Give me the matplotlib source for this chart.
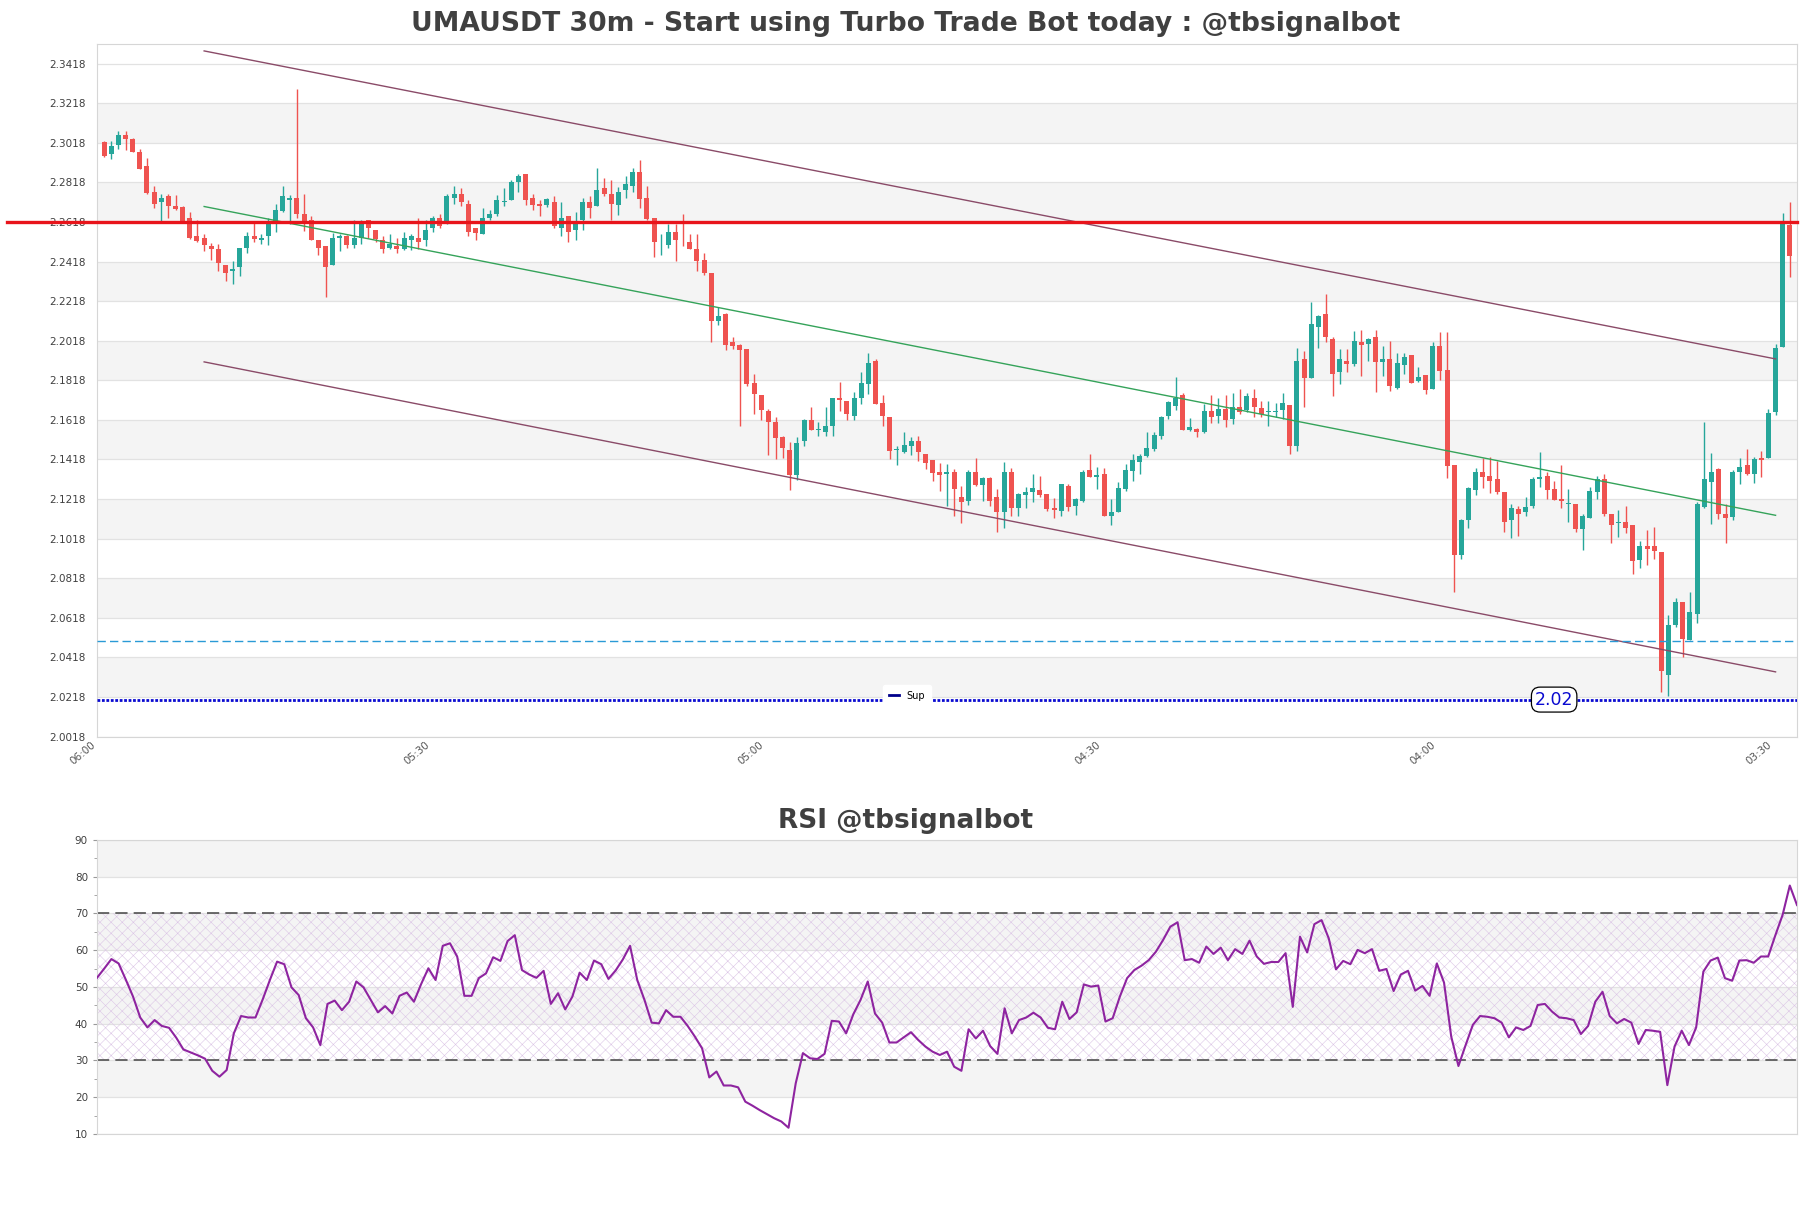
import numpy as np
import matplotlib
matplotlib.use('Agg')
import matplotlib.pyplot as plt
from matplotlib.lines import Line2D

# candles, oldest first (open, high, low, close)
opens = [2.3020, 2.2961, 2.3005, 2.3056, 2.3038, 2.2973, 2.2902, 2.2771, 2.2717, 2.2751,
         2.2700, 2.2692, 2.2640, 2.2549, 2.2537, 2.2499, 2.2483, 2.2401, 2.2369, 2.2389,
         2.2487, 2.2549, 2.2525, 2.2546, 2.2608, 2.2675, 2.2727, 2.2739, 2.2658, 2.2626,
         2.2529, 2.2499, 2.2399, 2.2536, 2.2549, 2.2504, 2.2537, 2.2626, 2.2579, 2.2529,
         2.2487, 2.2499, 2.2483, 2.2525, 2.2537, 2.2525, 2.2586, 2.2638, 2.2608, 2.2739,
         2.2761, 2.2710, 2.2586, 2.2558, 2.2638, 2.2658, 2.2721, 2.2728, 2.2818, 2.2862,
         2.2739, 2.2711, 2.2706, 2.2719, 2.2588, 2.2647, 2.2576, 2.2627, 2.2719, 2.2697,
         2.2790, 2.2760, 2.2706, 2.2778, 2.2798, 2.2870, 2.2739, 2.2639, 2.2510, 2.2504,
         2.2568, 2.2529, 2.2518, 2.2482, 2.2424, 2.2361, 2.2118, 2.2151, 2.2009, 2.1997,
         2.1975, 2.1802, 2.1743, 2.1661, 2.1605, 2.1530, 2.1466, 2.1342, 2.1510, 2.1619,
         2.1567, 2.1558, 2.1589, 2.1731, 2.1715, 2.1639, 2.1731, 2.1799, 2.1913, 2.1703,
         2.1631, 2.1466, 2.1458, 2.1488, 2.1513, 2.1446, 2.1417, 2.1353, 2.1345, 2.1357,
         2.1227, 2.1210, 2.1357, 2.1291, 2.1323, 2.1227, 2.1152, 2.1353, 2.1172, 2.1239,
         2.1252, 2.1266, 2.1244, 2.1172, 2.1160, 2.1286, 2.1182, 2.1210, 2.1367, 2.1332,
         2.1345, 2.1130, 2.1152, 2.1269, 2.1362, 2.1404, 2.1434, 2.1471, 2.1538, 2.1639,
         2.1689, 2.1743, 2.1568, 2.1572, 2.1558, 2.1661, 2.1639, 2.1673, 2.1622, 2.1681,
         2.1669, 2.1731, 2.1678, 2.1656, 2.1659, 2.1669, 2.1693, 2.1484, 2.1925, 2.1832,
         2.2089, 2.2151, 2.2029, 2.1861, 2.1913, 2.1899, 2.2009, 2.2000, 2.2039, 2.1911,
         2.1925, 2.1781, 2.1896, 2.1945, 2.1815, 2.1844, 2.1775, 2.1993, 2.1868, 2.1388,
         2.0936, 2.1114, 2.1265, 2.1356, 2.1336, 2.1317, 2.1253, 2.1114, 2.1166, 2.1153,
         2.1182, 2.1317, 2.1336, 2.1269, 2.1220, 2.1195, 2.1191, 2.1066, 2.1124, 2.1253,
         2.1317, 2.1143, 2.1095, 2.1104, 2.1085, 2.0911, 2.0979, 2.0979, 2.0950, 2.0331,
         2.0583, 2.0699, 2.0506, 2.0635, 2.1176, 2.1303, 2.1369, 2.1143, 2.1129, 2.1356,
         2.1388, 2.1346, 2.1427, 2.1427, 2.1659, 2.1987, 2.2602]
highs = [2.3028, 2.3025, 2.3078, 2.3078, 2.3042, 2.2988, 2.2941, 2.2801, 2.2761, 2.2759,
         2.2752, 2.2700, 2.2670, 2.2628, 2.2559, 2.2512, 2.2507, 2.2401, 2.2423, 2.2487,
         2.2569, 2.2613, 2.2559, 2.2638, 2.2710, 2.2801, 2.2752, 2.3290, 2.2761, 2.2650,
         2.2529, 2.2499, 2.2562, 2.2559, 2.2554, 2.2626, 2.2626, 2.2626, 2.2579, 2.2549,
         2.2559, 2.2537, 2.2569, 2.2559, 2.2638, 2.2626, 2.2650, 2.2658, 2.2761, 2.2801,
         2.2789, 2.2730, 2.2586, 2.2689, 2.2680, 2.2752, 2.2790, 2.2832, 2.2862, 2.2862,
         2.2760, 2.2731, 2.2739, 2.2748, 2.2719, 2.2647, 2.2669, 2.2739, 2.2748, 2.2891,
         2.2840, 2.2832, 2.2795, 2.2852, 2.2891, 2.2933, 2.2802, 2.2639, 2.2555, 2.2610,
         2.2610, 2.2660, 2.2558, 2.2558, 2.2462, 2.2361, 2.2190, 2.2160, 2.2039, 2.2000,
         2.1975, 2.1852, 2.1743, 2.1673, 2.1631, 2.1538, 2.1505, 2.1530, 2.1622, 2.1681,
         2.1605, 2.1681, 2.1731, 2.1810, 2.1715, 2.1757, 2.1862, 2.1955, 2.1925, 2.1745,
         2.1631, 2.1488, 2.1559, 2.1530, 2.1538, 2.1446, 2.1417, 2.1399, 2.1395, 2.1370,
         2.1283, 2.1367, 2.1424, 2.1328, 2.1328, 2.1269, 2.1404, 2.1374, 2.1249, 2.1278,
         2.1345, 2.1337, 2.1244, 2.1222, 2.1295, 2.1295, 2.1222, 2.1367, 2.1446, 2.1379,
         2.1374, 2.1216, 2.1303, 2.1395, 2.1446, 2.1446, 2.1555, 2.1558, 2.1639, 2.1715,
         2.1836, 2.1753, 2.1630, 2.1575, 2.1698, 2.1745, 2.1731, 2.1745, 2.1753, 2.1773,
         2.1753, 2.1773, 2.1715, 2.1715, 2.1703, 2.1753, 2.1693, 2.1983, 2.1967, 2.2214,
         2.2150, 2.2252, 2.2039, 2.1978, 2.1978, 2.2067, 2.2072, 2.2034, 2.2071, 2.1992,
         2.2017, 2.1954, 2.1954, 2.1945, 2.1883, 2.1844, 2.2012, 2.2061, 2.2061, 2.1388,
         2.1118, 2.1278, 2.1375, 2.1427, 2.1433, 2.1408, 2.1253, 2.1195, 2.1182, 2.1230,
         2.1327, 2.1458, 2.1356, 2.1311, 2.1388, 2.1269, 2.1195, 2.1143, 2.1278, 2.1336,
         2.1346, 2.1143, 2.1162, 2.1182, 2.1085, 2.1004, 2.1060, 2.1075, 2.0950, 2.0631,
         2.0718, 2.0699, 2.0747, 2.1201, 2.1607, 2.1452, 2.1375, 2.1191, 2.1365, 2.1423,
         2.1471, 2.1433, 2.1462, 2.1674, 2.2000, 2.2663, 2.2718]
lows = [2.2946, 2.2937, 2.2986, 2.2979, 2.2969, 2.2888, 2.2757, 2.2687, 2.2616, 2.2636,
        2.2678, 2.2620, 2.2532, 2.2515, 2.2470, 2.2428, 2.2369, 2.2319, 2.2307, 2.2347,
        2.2462, 2.2515, 2.2507, 2.2504, 2.2566, 2.2667, 2.2608, 2.2638, 2.2571, 2.2525,
        2.2450, 2.2238, 2.2399, 2.2470, 2.2487, 2.2487, 2.2507, 2.2537, 2.2517, 2.2462,
        2.2483, 2.2462, 2.2478, 2.2478, 2.2483, 2.2495, 2.2566, 2.2588, 2.2608, 2.2710,
        2.2697, 2.2546, 2.2525, 2.2558, 2.2626, 2.2650, 2.2697, 2.2728, 2.2768, 2.2706,
        2.2677, 2.2647, 2.2694, 2.2585, 2.2546, 2.2518, 2.2526, 2.2576, 2.2639, 2.2697,
        2.2748, 2.2627, 2.2655, 2.2739, 2.2770, 2.2689, 2.2630, 2.2440, 2.2450, 2.2484,
        2.2420, 2.2496, 2.2479, 2.2370, 2.2350, 2.2009, 2.2096, 2.1972, 2.1978, 2.1589,
        2.1790, 2.1647, 2.1619, 2.1441, 2.1421, 2.1424, 2.1262, 2.1315, 2.1488, 2.1567,
        2.1538, 2.1538, 2.1538, 2.1664, 2.1619, 2.1619, 2.1698, 2.1748, 2.1698, 2.1589,
        2.1421, 2.1392, 2.1451, 2.1441, 2.1412, 2.1370, 2.1311, 2.1261, 2.1185, 2.1135,
        2.1098, 2.1189, 2.1283, 2.1210, 2.1182, 2.1051, 2.1071, 2.1135, 2.1135, 2.1172,
        2.1202, 2.1227, 2.1160, 2.1122, 2.1135, 2.1160, 2.1140, 2.1202, 2.1328, 2.1269,
        2.1130, 2.1088, 2.1152, 2.1261, 2.1311, 2.1345, 2.1429, 2.1463, 2.1521, 2.1622,
        2.1669, 2.1568, 2.1563, 2.1530, 2.1552, 2.1602, 2.1602, 2.1580, 2.1597, 2.1647,
        2.1656, 2.1631, 2.1631, 2.1589, 2.1631, 2.1622, 2.1446, 2.1459, 2.1681, 2.1832,
        2.1983, 2.2009, 2.1740, 2.1799, 2.1861, 2.1891, 2.1841, 2.1916, 2.1760, 2.1841,
        2.1765, 2.1775, 2.1848, 2.1806, 2.1809, 2.1748, 2.1775, 2.1819, 2.1322, 2.0747,
        2.0917, 2.1071, 2.1240, 2.1272, 2.1249, 2.1245, 2.1052, 2.1023, 2.1033, 2.1133,
        2.1172, 2.1278, 2.1216, 2.1214, 2.1172, 2.1104, 2.1052, 2.0959, 2.1124, 2.1220,
        2.1133, 2.0994, 2.1027, 2.1046, 2.0840, 2.0869, 2.0886, 2.0917, 2.0245, 2.0225,
        2.0573, 2.0418, 2.0506, 2.0592, 2.1172, 2.1091, 2.1118, 2.0994, 2.1110, 2.1292,
        2.1342, 2.1298, 2.1327, 2.1427, 2.1641, 2.1987, 2.2341]
closes = [2.2949, 2.3000, 2.3058, 2.3035, 2.2969, 2.2888, 2.2764, 2.2707, 2.2739, 2.2697,
          2.2683, 2.2620, 2.2537, 2.2520, 2.2504, 2.2483, 2.2410, 2.2359, 2.2382, 2.2487,
          2.2549, 2.2532, 2.2537, 2.2616, 2.2680, 2.2751, 2.2739, 2.2658, 2.2618, 2.2525,
          2.2487, 2.2389, 2.2537, 2.2549, 2.2504, 2.2537, 2.2618, 2.2586, 2.2534, 2.2483,
          2.2507, 2.2483, 2.2537, 2.2546, 2.2517, 2.2579, 2.2638, 2.2596, 2.2751, 2.2761,
          2.2717, 2.2566, 2.2562, 2.2638, 2.2658, 2.2730, 2.2726, 2.2820, 2.2852, 2.2728,
          2.2706, 2.2697, 2.2734, 2.2597, 2.2639, 2.2568, 2.2622, 2.2719, 2.2689, 2.2781,
          2.2760, 2.2709, 2.2770, 2.2810, 2.2870, 2.2736, 2.2635, 2.2516, 2.2514, 2.2568,
          2.2529, 2.2526, 2.2482, 2.2420, 2.2358, 2.2118, 2.2143, 2.1997, 2.1992, 2.1972,
          2.1799, 2.1748, 2.1669, 2.1609, 2.1527, 2.1474, 2.1342, 2.1500, 2.1619, 2.1567,
          2.1572, 2.1589, 2.1731, 2.1720, 2.1648, 2.1731, 2.1804, 2.1903, 2.1698, 2.1639,
          2.1463, 2.1471, 2.1491, 2.1513, 2.1454, 2.1400, 2.1350, 2.1342, 2.1353, 2.1269,
          2.1202, 2.1357, 2.1290, 2.1323, 2.1210, 2.1152, 2.1353, 2.1172, 2.1244, 2.1252,
          2.1273, 2.1239, 2.1169, 2.1164, 2.1295, 2.1177, 2.1216, 2.1357, 2.1332, 2.1342,
          2.1130, 2.1152, 2.1275, 2.1367, 2.1416, 2.1437, 2.1476, 2.1543, 2.1631, 2.1706,
          2.1731, 2.1568, 2.1580, 2.1558, 2.1661, 2.1631, 2.1673, 2.1619, 2.1681, 2.1659,
          2.1740, 2.1681, 2.1647, 2.1661, 2.1661, 2.1703, 2.1488, 2.1913, 2.1832, 2.2101,
          2.2143, 2.2039, 2.1849, 2.1924, 2.1899, 2.2017, 2.1997, 2.2029, 2.1911, 2.1925,
          2.1790, 2.1906, 2.1935, 2.1806, 2.1833, 2.1771, 2.1993, 2.1864, 2.1384, 2.0936,
          2.1114, 2.1272, 2.1356, 2.1330, 2.1311, 2.1253, 2.1104, 2.1172, 2.1143, 2.1176,
          2.1317, 2.1327, 2.1265, 2.1214, 2.1207, 2.1199, 2.1066, 2.1133, 2.1259, 2.1317,
          2.1143, 2.1085, 2.1104, 2.1071, 2.0907, 2.0979, 2.0965, 2.0956, 2.0347, 2.0583,
          2.0699, 2.0509, 2.0645, 2.1191, 2.1317, 2.1356, 2.1143, 2.1124, 2.1356, 2.1379,
          2.1346, 2.1419, 2.1417, 2.1655, 2.1980, 2.2617, 2.2447]

rsi = [52.5, 55.0, 57.6, 56.4, 52.0, 47.4, 41.7, 39.0, 41.0, 39.4,
       38.9, 36.2, 33.0, 32.2, 31.4, 30.5, 27.2, 25.6, 27.4, 37.4,
       42.1, 41.7, 41.7, 46.6, 51.9, 56.9, 56.2, 49.9, 47.8, 41.5,
       39.0, 34.2, 45.4, 46.3, 43.7, 46.0, 51.5, 49.9, 46.5, 43.1,
       44.8, 42.8, 47.6, 48.5, 46.0, 50.8, 55.1, 51.9, 61.2, 61.9,
       58.3, 47.6, 47.6, 52.4, 53.7, 58.1, 57.1, 62.5, 64.1, 54.6,
       53.4, 52.5, 54.4, 45.4, 48.3, 43.9, 47.4, 53.9, 51.9, 57.2,
       56.2, 52.2, 54.5, 57.5, 61.2, 51.9, 46.5, 40.3, 40.1, 43.7,
       41.9, 41.9, 39.4, 36.5, 33.3, 25.4, 27.0, 23.2, 23.2, 22.7,
       18.8, 17.7, 16.5, 15.4, 14.3, 13.4, 11.7, 23.8, 32.0, 30.6,
       30.4, 31.8, 40.8, 40.6, 37.4, 42.6, 46.5, 51.5, 42.8, 40.3,
       34.9, 34.9, 36.3, 37.7, 35.6, 33.8, 32.4, 31.5, 32.4, 28.3,
       27.2, 38.5, 36.0, 38.1, 33.9, 31.8, 44.2, 37.4, 41.0, 41.7,
       43.0, 41.7, 38.9, 38.5, 46.0, 41.3, 43.1, 50.7, 50.1, 50.4,
       40.6, 41.5, 47.4, 52.4, 54.6, 55.8, 57.3, 59.6, 62.8, 66.4,
       67.6, 57.3, 57.6, 56.6,
       61.0, 59.0, 60.7, 57.3, 60.3, 59.0, 62.6, 58.3, 56.3, 56.8,
       56.8, 59.2, 44.6, 63.7, 59.4, 67.1, 68.2, 63.2, 54.8, 57.1,
       56.2, 60.1, 59.2, 60.3, 54.4, 54.9, 48.9, 53.4, 54.4, 49.0,
       50.3, 47.6, 56.4, 51.2, 36.5, 28.5, 34.2, 39.7, 42.1, 41.9,
       41.5, 40.3, 36.3, 39.0, 38.3, 39.4, 45.1, 45.4, 43.3, 41.7,
       41.5, 41.0, 37.2, 39.4, 46.0, 48.7, 42.1, 40.1, 41.3, 40.3,
       34.5, 38.3, 38.1, 37.8, 23.3, 33.8, 38.1, 34.2, 39.0, 54.2,
       57.2, 58.0, 52.4, 51.7, 57.2, 57.3, 56.6, 58.3, 58.3, 64.1,
       69.6, 77.6, 72.3]

# levels and channel (candle index, price)
resistance = 2.2616
support = 2.0205
support_label = '2.02'
support_label_x = 203
blue_level = 2.0500
chan_x = [14, 234]
chan_upper = [2.3482, 2.1926]
chan_mid = [2.2696, 2.1136]
chan_lower = [2.1911, 2.0345]

tick_pos = [-1, 45.8, 92.6, 139.8, 186.7, 233.7]
tick_labels = ['06:00', '05:30', '05:00', '04:30', '04:00', '03:30']
price_ticks = [2.0018 + 0.02 * k for k in range(18)]
rsi_ticks = [10, 20, 30, 40, 50, 60, 70, 80, 90]

UP, DOWN = '#26a69a', '#ef5350'
BAND, GRID, SPINE = '#f4f4f4', '#e2e2e2', '#d6d6d6'
TXT = '#404040'

fig = plt.figure(figsize=(18.11, 12.08), dpi=100)
ax = fig.add_axes([0.05356, 0.38990, 0.93871, 0.57368])
ax2 = fig.add_axes([0.05356, 0.06126, 0.93871, 0.24338])

# ---- price panel ----
n = len(closes)
x = np.arange(n)
o, h, l, c = map(np.array, (opens, highs, lows, closes))
up = c >= o
col = np.where(up, UP, DOWN)

ax.set_xlim(-1, n)
ax.set_ylim(2.0016, 2.3517)
for k, t in enumerate(price_ticks[:-1]):
    if k % 2 == 1:
        ax.axhspan(t, price_ticks[k + 1], color=BAND, zorder=0, lw=0)
for t in price_ticks:
    ax.axhline(t, color=GRID, lw=0.9, zorder=0.5)

ax.vlines(x, l, h, colors=col, lw=1.0, zorder=2)
body_lo = np.minimum(o, c)
body_h = np.maximum(np.abs(c - o), 0.0003)
ax.bar(x, body_h, bottom=body_lo, width=0.7, color=col, lw=0, zorder=3)

ax.plot(chan_x, chan_upper, color='#8a4b68', lw=1.0, zorder=4)
ax.plot(chan_x, chan_lower, color='#8a4b68', lw=1.0, zorder=4)
ax.plot(chan_x, chan_mid, color='#35a35a', lw=1.0, zorder=4)

ax.axhline(resistance, xmin=-0.053, xmax=1, color='#e8141b', lw=2.4,
           zorder=5, clip_on=False)
ax.axhline(blue_level, color='#2a9ad6', lw=1.0, ls=(0, (6, 3)), zorder=4)
ax.axhline(support, color='#0a0ad0', lw=2.0, ls=(0, (1, 0.6)), zorder=4)
ax.text(support_label_x, support, support_label, color='#0a0ad0', fontsize=12.5,
        ha='center', va='center', zorder=6,
        bbox=dict(boxstyle='round,pad=0.2,rounding_size=0.5', fc='white',
                  ec='black', lw=0.9))
leg = ax.legend([Line2D([], [], color='#00008b', lw=2)], ['Sup'],
                loc='lower center', bbox_to_anchor=(0.4765, 0.037),
                fontsize=7, handlelength=1.0, frameon=True, borderpad=0.6)
leg.get_frame().set_edgecolor('white')
leg.get_frame().set_alpha(1.0)

ax.set_yticks(price_ticks)
ax.set_yticklabels([f'{t:.4f}' for t in price_ticks])
ax.set_xticks(tick_pos)
ax.set_xticklabels(tick_labels, rotation=40, ha='right')
ax.tick_params(axis='y', length=0, labelsize=7.5, labelcolor=TXT, pad=8)
ax.tick_params(axis='x', length=0, labelsize=7.5, labelcolor='#555555', pad=2)
for s in ax.spines.values():
    s.set_color(SPINE)

# ---- RSI panel ----
xr = np.arange(len(rsi))
ax2.set_xlim(0, len(rsi) - 1)
ax2.set_ylim(10, 90)
for lo_, hi_ in [(20, 30), (40, 50), (60, 70), (80, 90)]:
    ax2.axhspan(lo_, hi_, color=BAND, zorder=0, lw=0)
for t in rsi_ticks:
    ax2.axhline(t, color=GRID, lw=0.9, zorder=0.5)
plt.rcParams['hatch.linewidth'] = 0.4
ax2.fill_between([0, len(rsi) - 1], 30, 70, facecolor='none',
                 edgecolor='#dcc6e6', hatch='xxx', lw=0, zorder=1)
ax2.axhline(70, color='#444444', lw=1.1, ls=(0, (8, 4)), zorder=2)
ax2.axhline(30, color='#444444', lw=1.1, ls=(0, (8, 4)), zorder=2)
ax2.plot(xr, rsi, color='#8e24a0', lw=1.5, zorder=3)

ax2.set_yticks(rsi_ticks)
ax2.set_yticks([15, 25, 35, 45, 55, 65, 75, 85], minor=True)
ax2.set_xticks([])
ax2.tick_params(axis='y', which='major', length=3, color='#999999',
                labelsize=7.5, labelcolor=TXT)
ax2.tick_params(axis='y', which='minor', length=2, color='#999999')
for s in ax2.spines.values():
    s.set_color(SPINE)

fig.text(0.5, 0.9800, 'UMAUSDT 30m - Start using Turbo Trade Bot today : @tbsignalbot',
         ha='center', va='center', fontsize=19.2, fontweight='bold', color=TXT)
fig.text(0.5, 0.3200, 'RSI @tbsignalbot', ha='center', va='center',
         fontsize=19, fontweight='bold', color=TXT)

fig.savefig('out.png', dpi=100)
